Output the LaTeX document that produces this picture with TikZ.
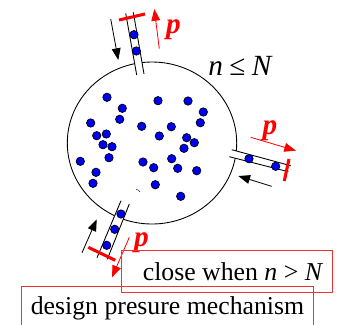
\documentclass[tikz,border=0pt]{standalone}
\usepackage{fontspec}
\setmainfont{Liberation Serif}
\usetikzlibrary{arrows.meta}
\definecolor{dotblue}{RGB}{0,0,240}
\definecolor{boxred}{RGB}{240,50,50}
\tikzset{
  dot/.style={circle,draw=black,fill=dotblue,line width=0.55pt,inner sep=0pt,minimum size=7.2pt},
  wall/.style={line width=0.75pt},
  gate/.style={red,line width=2.6pt},
  flowin/.style={-{Triangle[length=10pt,width=7.5pt]},line width=0.7pt},
  flowout/.style={red,-{Triangle[length=10pt,width=7.5pt]},line width=0.7pt},
  redbox/.style={draw=boxred,line width=0.7pt,inner sep=0pt},
  txt/.style={font=\fontsize{22}{24}\selectfont,inner sep=0pt},
  plabel/.style={red,font=\fontsize{25}{27}\selectfont\bfseries\itshape,inner sep=0pt}
}
\begin{document}
\begin{tikzpicture}[x=0.03cm,y=-0.03cm]
\useasboundingbox (0,0) rectangle (339,324);
\clip (0,0) rectangle (339,324);
% vessel
\draw[line width=0.75pt] (152,143) ellipse [x radius=84.7,y radius=81];
% gaps for the channels
\fill[white] (125.7,13.3) -- (133.3,12.3) -- (144,74) -- (136.7,75) -- cycle;
\fill[white] (231.7,149.7) -- (290.7,165.7) -- (288.3,171.7) -- (229.3,156.7) -- cycle;
\fill[white] (121,200.7) -- (129.3,204) -- (107.3,259.3) -- (97,257.7) -- cycle;
% channels
\draw[wall] (125.7,13.3) -- (136.7,75);
\draw[wall] (133.3,12.3) -- (144,74);
\draw[wall] (231.7,149.7) -- (290.7,165.7);
\draw[wall] (229.3,156.7) -- (288.3,171.7);
\draw[wall] (121,200.7) -- (97,257.7);
\draw[wall] (129.3,204) -- (107.3,259.3);
% gates
\draw[gate] (119,20) -- (145,14);
\draw[gate] (289,159) -- (284.3,181);
\draw[gate] (88.3,247.3) -- (115.3,260.3);
% particles
\foreach \px/\py in {107/97.3,122.3/108.3,119.7/119.3,90.7/123,96.7/135.7,106.3/134,103/144.7,112/146.7,
  109/157.7,80.3/161.3,96/172.3,93/183.3,158/100.7,188/101,203.3/112,200.3/122.7,141.7/126.3,171.3/126.7,
  159.3/136,186.7/137.7,194.3/142.7,184/148.3,171.7/158.7,143/162,153.7/167.7,177.7/168.3,196.7/170.7,
  155.3/184.7,180.7/196.3,134/34.7,136.3/51,249/158.7,275.7/166.3,121/214,114.7/229.3,106.7/245.3}
  \node[dot] at (\px,\py) {};
% flows
\draw[flowin] (110.7,19) -- (118.3,60);
\draw[flowout] (159.3,48.7) -- (154.3,9);
\draw[flowout] (250.7,137.3) -- (296,150.7);
\draw[flowin] (271.7,186.3) -- (238.3,176);
\draw[flowin] (82,252.7) -- (96.7,219.3);
\draw[flowout] (129.3,237.3) -- (112,277.3);
\draw[line width=0.4pt,dotblue!60!black] (136,189.3) to[bend left=25] (140,192);
% labels
\node[plabel] (ptop) at (173.5,30) {p};
\node[plabel] (pright) at (270,131) {p};
\node[plabel] (pbottom) at (141.5,243) {p};
\node[txt,font=\fontsize{25}{27}\selectfont] (limit) at (240.5,66) {\textit{n}\hspace{0.22em}≤\hspace{0.22em}\textit{N}};
\node[redbox,minimum width=211*0.03cm,minimum height=41.3*0.03cm] (closebox) at (227.2,271.4) {};
\node[txt] (closetext) at (233,272) {close when \textit{n} > \textit{N}};
\node[redbox,txt,minimum width=292.4*0.03cm,minimum height=44*0.03cm] (designbox) at (167.5,308) {design presure mechanism};
\end{tikzpicture}
\end{document}
